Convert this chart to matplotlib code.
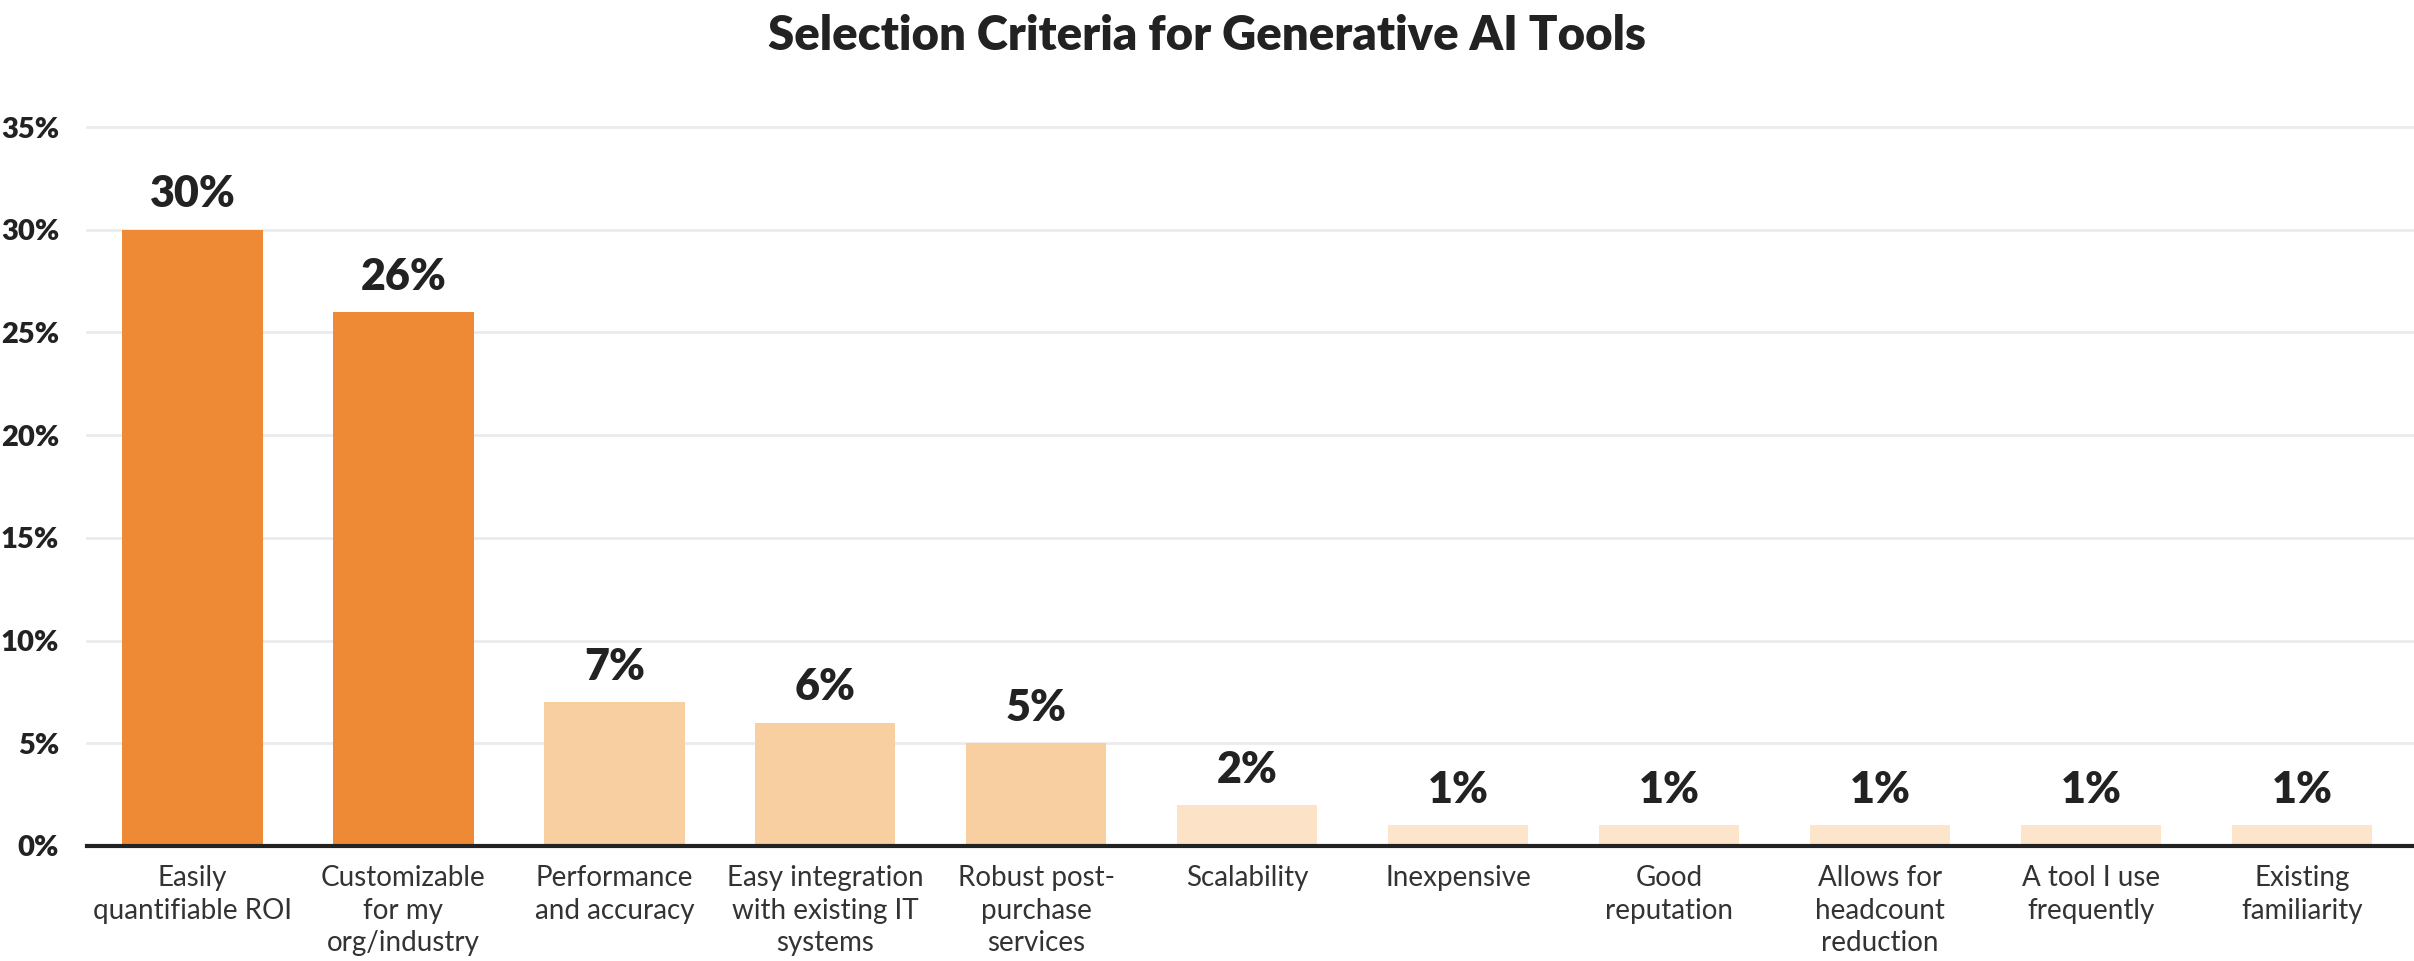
import matplotlib.pyplot as plt
import numpy as np

# datos del grafico
categorias = ["Easily\nquantifiable ROI", "Customizable\nfor my\norg/industry",
              "Performance\nand accuracy", "Easy integration\nwith existing IT\nsystems",
              "Robust post-\npurchase\nservices", "Scalability", "Inexpensive",
              "Good\nreputation", "Allows for\nheadcount\nreduction",
              "A tool I use\nfrequently", "Existing\nfamiliarity"]
valores = [30, 26, 7, 6, 5, 2, 1, 1, 1, 1, 1]
colores = ["#EE8A35", "#EE8A35", "#F7CFA0", "#F7CFA0", "#F7CFA0",
           "#FCE3C8", "#FCE5CB", "#FCE5CB", "#FCE5CB", "#FCE5CB", "#FCE5CB"]
ticks_y = [0, 5, 10, 15, 20, 25, 30, 35]

plt.rcParams['font.family'] = ['Lato', 'DejaVu Sans']
texto = '#222222'

fig = plt.figure(figsize=(24.14, 9.61), dpi=100)
ax = fig.add_axes([0.036, 0.1197, 0.964, 0.7481])
x = np.arange(len(valores))
ax.bar(x, valores, width=0.665, color=colores, zorder=3)

# etiquetas de valor encima de cada barra
for xi, v in zip(x, valores):
    ax.annotate(f"{v}%", (xi, v), xytext=(0, 11), textcoords='offset points',
                ha='center', va='bottom', fontsize=31, fontweight='heavy', color=texto)

ax.set_xlim(-0.5, 10.53)
ax.set_ylim(0, 35)
ax.set_yticks(ticks_y)
ax.set_yticklabels([f"{t}%" for t in ticks_y], fontsize=21, fontweight='heavy', color=texto)
ax.yaxis.grid(True, color='#EBEBEB', linewidth=2, zorder=0)
for gl in ax.get_ygridlines():
    gl.set_clip_on(False)
ax.set_xticks(x)
ax.set_xticklabels(categorias, fontsize=20, fontweight='normal', color='#333333', linespacing=1.3)
ax.tick_params(axis='both', length=0)
ax.tick_params(axis='x', pad=14)
ax.tick_params(axis='y', pad=20)
for lado in ['top', 'right', 'left']:
    ax.spines[lado].set_visible(False)
ax.spines['bottom'].set_color(texto)
ax.spines['bottom'].set_linewidth(3)
ax.spines['bottom'].set_zorder(4)

fig.text(0.5, 0.985, "Selection Criteria for Generative AI Tools", ha='center', va='top',
         fontsize=34, fontweight='heavy', color=texto)

plt.savefig('out.png', dpi=100)
